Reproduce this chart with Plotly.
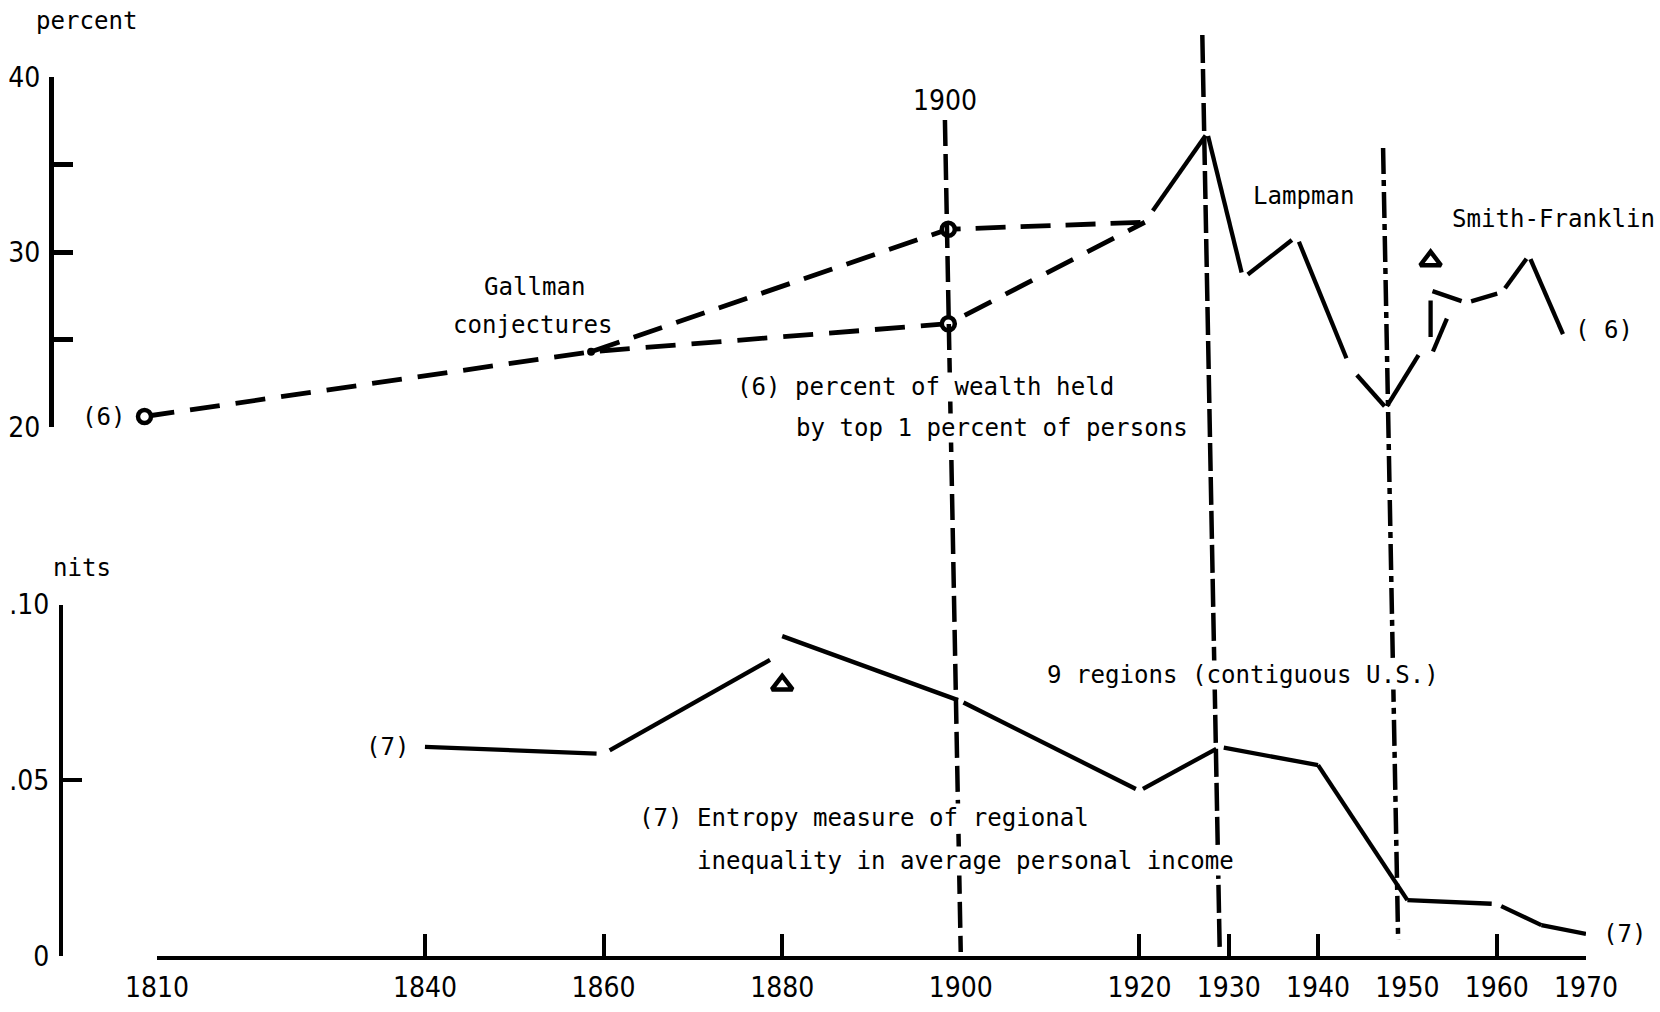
import math
import plotly.graph_objects as go

# ---------------- data ----------------
# (6) share of wealth held by the top 1 percent of persons
gallman_low_years = [1810, 1860, 1900, 1922]
gallman_low_pct = [20.6, 24.3, 25.9, 31.7]
gallman_high_years = [1860, 1900, 1922]
gallman_high_pct = [24.3, 31.3, 31.7]
benchmark_years = [1810, 1900, 1900]
benchmark_pct = [20.6, 31.3, 25.9]
gallman_1860_years = [1860]
gallman_1860_pct = [24.3]
lampman_years = [1922, 1929, 1933, 1939, 1945, 1949, 1953, 1954, 1956]
lampman_pct = [31.7, 36.8, 28.5, 30.9, 23.4, 21.1, 24.4, 24.0, 26.4]
smith_franklin_years = [1954, 1958, 1962, 1965, 1969]
smith_franklin_pct = [27.8, 27.1, 27.7, 29.8, 25.1]
top_break_years = [1954]
top_break_pct = [29.5]

# (7) entropy measure of regional income inequality, nits
entropy_early_years = [1840, 1860, 1880]
entropy_early = [0.0595, 0.0575, 0.0862]
entropy_late_years = [1880, 1900, 1920, 1929, 1940, 1950, 1960, 1965, 1970]
entropy_late = [0.0910, 0.0725, 0.0470, 0.0595, 0.0543, 0.0159, 0.0148, 0.0088, 0.0063]
bottom_break_years = [1880]
bottom_break_nits = [0.0771]

event_years = [1900, 1929, 1949]
x_label_years = [1810, 1840, 1860, 1880, 1900, 1920, 1930, 1940, 1950, 1960, 1970]
x_tick_years = [1810, 1840, 1860, 1880, 1920, 1930, 1940, 1960, 1970]
top_tick_vals = [20, 25, 30, 35, 40]
top_tick_text = ["20", "", "30", "", "40"]
bottom_tick_vals = [0, 0.05, 0.10]
bottom_tick_text = ["0", ".05", ".10"]

# ---------------- geometry / style ----------------
W, H = 1660, 1012
X0_PX, X1_PX = 157, 1586          # 1810 .. 1970 on the bottom axis
TOP_SHIFT = -12.5                 # the upper panel sits slightly left
BOT_Y_PX = (956, 604.5)           # 0 .. .10
TOP_Y_PX = (427, 77)              # 20 .. 40
SKEW = 0.019                      # lean of the drafted vertical rules
SX = (X1_PX - X0_PX) / 160.0
SY_TOP = (TOP_Y_PX[0] - TOP_Y_PX[1]) / 20.0
SY_BOT = (BOT_Y_PX[0] - BOT_Y_PX[1]) / 0.10

MONO = "DejaVu Sans Mono"
NUM = "Liberation Sans Narrow, DejaVu Sans Condensed, Liberation Sans, sans-serif"
TXT = 24.1
NUMSZ = 28
INK = "black"


def trimmed(xs, ys, trims, sx, sy):
    """Polyline drawn as separate strokes that stop short of each vertex."""
    ox, oy = [], []
    for i in range(len(xs) - 1):
        dx, dy = xs[i + 1] - xs[i], ys[i + 1] - ys[i]
        length = math.hypot(dx * sx, dy * sy)
        if length == 0:
            continue
        a, b = trims[i] / length, 1 - trims[i + 1] / length
        if a >= b:
            continue
        ox += [xs[i] + a * dx, xs[i] + b * dx, None]
        oy += [ys[i] + a * dy, ys[i] + b * dy, None]
    return ox, oy


def line_trace(x, y, axes, width=4.3, dash="solid"):
    return go.Scatter(x=x, y=y, mode="lines", xaxis=axes[0], yaxis=axes[1],
                      line=dict(color=INK, width=width, dash=dash),
                      hoverinfo="skip", connectgaps=False)


fig = go.Figure()
TOP = ("x2", "y2")
BOT = ("x", "y")

# upper panel: Gallman conjectures (dashed)
fig.add_trace(line_trace(gallman_low_years, gallman_low_pct, TOP, 4.8, "30px,16px"))
fig.add_trace(line_trace(gallman_high_years, gallman_high_pct, TOP, 4.8, "30px,15px"))

# Lampman
lx, ly = trimmed(lampman_years, lampman_pct, [14, 3, 6, 6, 10, 2, 6, 6, 4], SX, SY_TOP)
fig.add_trace(line_trace(lx, ly, TOP))

# Smith-Franklin
sx_, sy_ = trimmed(smith_franklin_years, smith_franklin_pct, [2, 5, 5, 4, 4], SX, SY_TOP)
fig.add_trace(line_trace(sx_, sy_, TOP))

# splice between the two series
splice_x = [smith_franklin_years[0], smith_franklin_years[0]]
splice_y = [lampman_pct[-2], smith_franklin_pct[0]]
cx, cy = trimmed(splice_x, splice_y, [20, 10], SX, SY_TOP)
fig.add_trace(line_trace(cx, cy, TOP))

fig.add_trace(go.Scatter(x=gallman_1860_years, y=gallman_1860_pct, mode="markers",
                         xaxis="x2", yaxis="y2", cliponaxis=False,
                         marker=dict(symbol="circle", size=8, color=INK)))
fig.add_trace(go.Scatter(x=benchmark_years, y=benchmark_pct, mode="markers",
                         xaxis="x2", yaxis="y2", cliponaxis=False,
                         marker=dict(symbol="circle", size=13, color="white",
                                     line=dict(color=INK, width=4.5))))
fig.add_trace(go.Scatter(x=top_break_years, y=top_break_pct, mode="markers",
                         xaxis="x2", yaxis="y2", cliponaxis=False,
                         marker=dict(symbol="triangle-up", size=18, color="white",
                                     line=dict(color=INK, width=4.5))))

# lower panel: entropy measure
ex, ey = trimmed(entropy_early_years, entropy_early, [0, 7, 14], SX, SY_BOT)
fig.add_trace(line_trace(ex, ey, BOT))
lx2, ly2 = trimmed(entropy_late_years, entropy_late, [0, 3, 4, 4, 0, 0, 5, 0, 0], SX, SY_BOT)
fig.add_trace(line_trace(lx2, ly2, BOT))
fig.add_trace(go.Scatter(x=bottom_break_years, y=bottom_break_nits, mode="markers",
                         xaxis="x", yaxis="y", cliponaxis=False,
                         marker=dict(symbol="triangle-up", size=18, color="white",
                                     line=dict(color=INK, width=4.5))))
# carrier for the year labels axis
fig.add_trace(go.Scatter(x=[None], y=[None], xaxis="x3", yaxis="y", mode="lines",
                         hoverinfo="skip"))


# ---------------- vertical event rules ----------------
def year_px(year):
    return X0_PX + (year - 1810) * SX


rule_spans = {1900: (120, 952), 1929: (35, 950), 1949: (148, 940)}
rule_dash = {1900: "26px,8px", 1929: "28px,6px", 1949: "26px,6px,6px,6px"}
shapes = []
for yr in event_years:
    y_top, y_bot = rule_spans[yr]
    xb = year_px(yr)
    shapes.append(dict(
        type="line", xref="paper", yref="paper", layer="above",
        x0=(xb + SKEW * (y_top - BOT_Y_PX[0])) / W, y0=1 - y_top / H,
        x1=(xb + SKEW * (y_bot - BOT_Y_PX[0])) / W, y1=1 - y_bot / H,
        line=dict(color=INK, width=4.5, dash=rule_dash[yr])))


# ---------------- text ----------------
def label(text, x_px, y_px, xanchor="center", family=MONO, size=TXT, bg=False):
    d = dict(text=text, x=x_px / W, y=1 - y_px / H, xref="paper", yref="paper",
             xanchor=xanchor, yanchor="middle", showarrow=False,
             font=dict(family=family, size=size, color=INK))
    if bg:
        d.update(bgcolor="white", borderpad=0)
    return d


def data_label(text, x, y, axes, xanchor, xshift=0, yshift=0):
    return dict(text=text, x=x, y=y, xref=axes[0], yref=axes[1], xanchor=xanchor,
                yanchor="middle", xshift=xshift, yshift=yshift, showarrow=False,
                font=dict(family=MONO, size=TXT, color=INK))


annotations = [
    label("percent", 87, 21),
    label("nits", 82, 568),
    label("1900", year_px(1900) + SKEW * (101 - BOT_Y_PX[0]), 101, family=NUM, size=NUMSZ),
    label("Gallman", 535, 287),
    label("conjectures", 533, 325),
    label("(6) percent of wealth held", 736, 387, "left", bg=True),
    label("by top 1 percent of persons", 795, 428, "left", bg=True),
    label("Lampman", 1304, 196),
    label("Smith-Franklin", 1450, 219, "left"),
    label("9 regions (contiguous U.S.)", 1046, 675, "left", bg=True),
    label("(7) Entropy measure of regional", 638, 818, "left", bg=True),
    label("inequality in average personal income", 696, 861, "left", bg=True),
    data_label("(6)", gallman_low_years[0], gallman_low_pct[0], TOP, "right", xshift=-17),
    data_label("( 6)", smith_franklin_years[-1], smith_franklin_pct[-1], TOP, "left", xshift=8, yshift=8),
    data_label("(7)", entropy_early_years[0], entropy_early[0], BOT, "right", xshift=-13),
    data_label("(7)", entropy_late_years[-1], entropy_late[-1], BOT, "left", xshift=15),
]

num_font = dict(family=NUM, size=NUMSZ, color=INK)

fig.update_layout(
    width=W, height=H, margin=dict(l=0, r=0, t=0, b=0, pad=0),
    paper_bgcolor="white", plot_bgcolor="white", showlegend=False,
    shapes=shapes, annotations=annotations,
    xaxis=dict(domain=[X0_PX / W, X1_PX / W], range=[1810, 1970], anchor="y",
               automargin=False,
               showgrid=False, zeroline=False, showline=True, linecolor=INK, linewidth=4,
               ticks="inside", ticklen=22, tickwidth=4, tickcolor=INK,
               tickvals=x_tick_years, showticklabels=False),
    xaxis3=dict(overlaying="x", anchor="y", side="bottom", range=[1810, 1970],
                automargin=False,
                showgrid=False, zeroline=False, showline=False, ticks="",
                tickvals=x_label_years, ticktext=[str(v) for v in x_label_years],
                tickfont=num_font, ticklabelstandoff=12),
    yaxis=dict(domain=[1 - BOT_Y_PX[0] / H, 1 - BOT_Y_PX[1] / H], range=[0, 0.10],
               anchor="free", position=61 / W, automargin=False,
               showgrid=False, zeroline=False,
               showline=True, linecolor=INK, linewidth=4,
               ticks="inside", ticklen=19, tickwidth=4, tickcolor=INK,
               tickvals=bottom_tick_vals, ticktext=bottom_tick_text,
               tickfont=num_font, ticklabelstandoff=4),
    xaxis2=dict(domain=[(X0_PX + TOP_SHIFT) / W, (X1_PX + TOP_SHIFT) / W],
                range=[1810, 1970], anchor="y2", visible=False, automargin=False),
    yaxis2=dict(domain=[1 - TOP_Y_PX[0] / H, 1 - TOP_Y_PX[1] / H], range=[20, 40],
                anchor="free", position=51 / W, automargin=False,
                showgrid=False, zeroline=False,
                showline=True, linecolor=INK, linewidth=5,
                ticks="inside", ticklen=19, tickwidth=5, tickcolor=INK,
                tickvals=top_tick_vals, ticktext=top_tick_text,
                tickfont=num_font, ticklabelstandoff=3),
)

fig.write_html("out.html")
